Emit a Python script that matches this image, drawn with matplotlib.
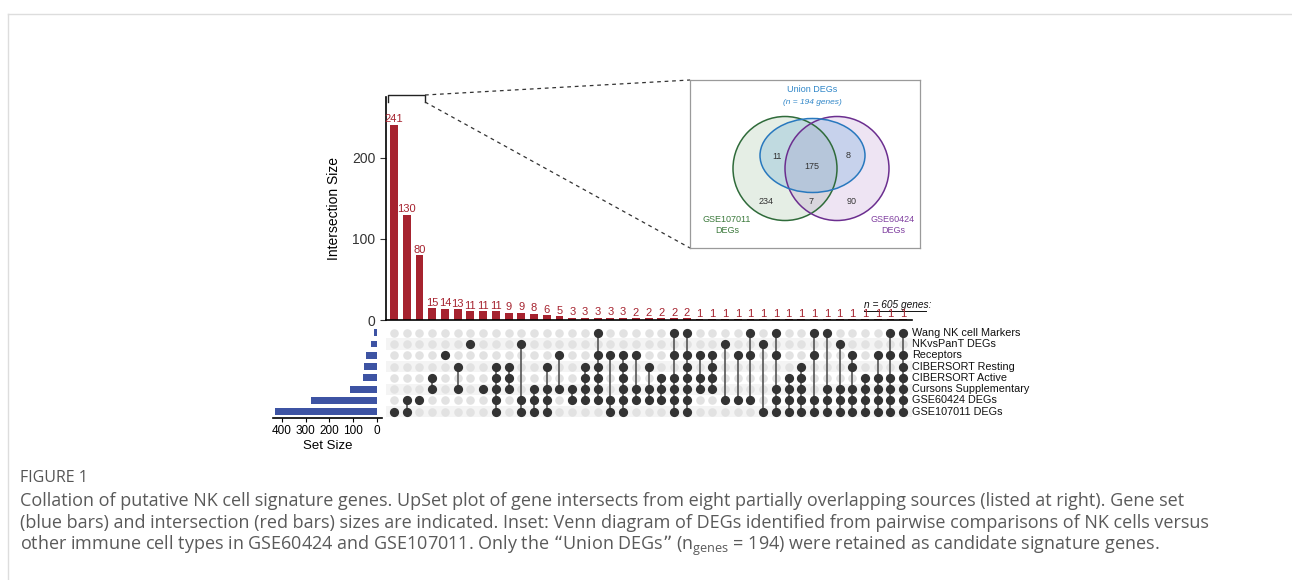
import matplotlib
matplotlib.use("Agg")
import matplotlib.pyplot as plt
from matplotlib.patches import Circle, Ellipse
import numpy as np

plt.rcParams['font.family'] = ['Liberation Sans', 'DejaVu Sans']

# ---------------- data ----------------
set_names = ["Wang NK cell Markers", "NKvsPanT DEGs", "Receptors", "CIBERSORT Resting",
             "CIBERSORT Active", "Cursons Supplementary", "GSE60424 DEGs", "GSE107011 DEGs"]
set_sizes = [14, 26, 47, 57, 58, 114, 278, 427]

counts = [241, 130, 80, 15, 14, 13, 11, 11, 11, 9, 9, 8, 6, 5,
          3, 3, 3, 3, 3, 2, 2, 2, 2, 2,
          1, 1, 1, 1, 1, 1, 1, 1, 1, 1, 1, 1, 1, 1, 1, 1, 1]

# membership of each intersection (row indices into set_names)
combos = [
    [7], [6, 7], [6], [4, 5], [2], [3, 5], [1], [5], [3, 4, 5, 6, 7], [3, 4, 5],
    [1, 6, 7], [5, 6, 7], [3, 5, 6, 7], [2, 5], [5, 6], [3, 4, 5, 6],
    [0, 2, 3, 4, 5, 6], [2, 6, 7], [2, 3, 4, 5, 6, 7], [2, 5, 6], [3, 5, 6],
    [4, 5, 6], [0, 2, 4, 5, 6, 7], [0, 2, 3, 4, 5, 6, 7], [2, 4, 5], [2, 3, 4, 5],
    [1, 6], [2, 6], [0, 2, 6], [1, 7], [0, 2, 5, 6, 7], [4, 5, 6, 7], [3, 4, 5, 6, 7],
    [0, 2, 6, 7], [0, 5, 6, 7], [1, 5, 6, 7], [2, 3, 5, 6, 7], [4, 5, 6, 7],
    [2, 4, 5, 6, 7], [0, 2, 4, 5, 6, 7], [0, 2, 3, 4, 5, 6, 7],
]

y_ticks_main = [0, 100, 200]
x_ticks_sets = [400, 300, 200, 100, 0]

venn_values = {"g_only": 234, "g_union": 11, "center": 175, "p_union": 8, "gp": 7, "p_only": 90}
union_n = 194
total_genes = 605

caption_title = "FIGURE 1"
caption_lines = [
    "Collation of putative NK cell signature genes. UpSet plot of gene intersects from eight partially overlapping sources (listed at right). Gene set",
    "(blue bars) and intersection (red bars) sizes are indicated. Inset: Venn diagram of DEGs identified from pairwise comparisons of NK cells versus",
    "other immune cell types in GSE60424 and GSE107011. Only the \u201cUnion DEGs\u201d (n$\\mathregular{_{genes}}$ = 194) were retained as candidate signature genes.",
]

# ---------------- figure ----------------
W, H = 1292, 580
fig = plt.figure(figsize=(W / 100, H / 100), dpi=100)
fig.patch.set_facecolor("white")

def rect(l, t, r, b):
    return [l / W, 1 - b / H, (r - l) / W, (b - t) / H]

RED = "#A6232F"
BLUE = "#3D53A3"
DARK = "#333333"
n = len(counts)
xlo, xhi = -0.628, 40.69

# overlay axes in pixel coordinates for decorations
ov = fig.add_axes([0, 0, 1, 1], zorder=-1)
ov.set_xlim(0, W)
ov.set_ylim(H, 0)
ov.axis("off")
ov.plot([8, W], [14, 14], color="#dddddd", lw=1)
ov.plot([8, 8], [14, H], color="#dddddd", lw=1)

# ---- intersection bars ----
axb = fig.add_axes(rect(386, 97, 912, 320))
x = np.arange(n)
axb.bar(x, counts, width=0.62, color=RED)
for xi, c in zip(x, counts):
    axb.text(xi, c + 6.5, str(c), ha="center", va="center", color=RED, fontsize=8)
axb.set_xlim(xlo, xhi)
axb.set_ylim(0, 275)
axb.set_yticks(y_ticks_main)
axb.tick_params(axis="y", labelsize=10, length=4, width=0.8, colors="#333333")
axb.set_xticks([])
for s in ["top", "right"]:
    axb.spines[s].set_visible(False)
axb.spines["left"].set_linewidth(1.2)
axb.spines["bottom"].set_linewidth(1.2)
axb.set_ylabel("Intersection Size", fontsize=10, labelpad=8)
axb.patch.set_alpha(0)

ov.text(864, 305, "n = %d genes:" % total_genes, ha="left", va="center",
        fontsize=7.3, style="italic", color="#111111")
ov.plot([864, 926], [310.5, 310.5], color="#111111", lw=0.7)

# ---- matrix ----
axm = fig.add_axes(rect(386, 327, 912, 418))
axm.set_xlim(xlo, xhi)
axm.set_ylim(7.55, -0.5)
axm.axis("off")
for r in range(len(set_names)):
    if r % 2 == 1:
        axm.axhspan(r - 0.5, r + 0.5, color="#f4f4f4", zorder=0, lw=0)
for i, combo in enumerate(combos):
    axm.scatter([i] * len(set_names), range(len(set_names)), s=38, color="#e2e2e2", zorder=1, lw=0)
    if len(combo) > 1:
        axm.plot([i, i], [min(combo), max(combo)], color="#555555", lw=1.2, zorder=2)
    axm.scatter([i] * len(combo), combo, s=44, color=DARK, zorder=3, lw=0)
for r, name in enumerate(set_names):
    axm.text(xhi + 0.0, r, name, ha="left", va="center", fontsize=7.8, color="#111111")

# ---- set sizes ----
axs = fig.add_axes(rect(273, 327, 382, 418))
axs.barh(range(len(set_names)), set_sizes, height=0.6, color=BLUE)
axs.set_xlim(436, -19.7)
axs.set_ylim(7.55, -0.5)
axs.set_yticks([])
axs.set_xticks(x_ticks_sets)
axs.tick_params(axis="x", labelsize=8.5, length=3, width=0.8, pad=2)
for s in ["top", "right", "left"]:
    axs.spines[s].set_visible(False)
axs.spines["bottom"].set_linewidth(1.2)
axs.set_xlabel("Set Size", fontsize=9.5, labelpad=2)
axs.patch.set_alpha(0)

# ---- bracket and zoom lines ----
ov.plot([388, 388, 425, 425], [102, 95, 95, 102], color="#222222", lw=1)
ov.plot([425, 690], [95, 80], color="#333333", lw=0.9, ls=(0, (3, 3)))
ov.plot([425, 690], [102, 248], color="#333333", lw=0.9, ls=(0, (3, 3)))

# ---- Venn inset ----
axv = fig.add_axes(rect(690, 80, 920, 248))
axv.set_xlim(690, 920)
axv.set_ylim(248, 80)
axv.set_xticks([])
axv.set_yticks([])
for s in axv.spines.values():
    s.set_color("#9a9a9a")
    s.set_linewidth(0.9)
axv.add_patch(Circle((785, 168.5), 52, facecolor="#4a8a4a", alpha=0.14, lw=0))
axv.add_patch(Circle((837, 168.5), 52, facecolor="#a060b8", alpha=0.17, lw=0))
axv.add_patch(Ellipse((812.5, 155.5), 105, 74, facecolor="#2c8ad0", alpha=0.2, lw=0))
axv.add_patch(Circle((785, 168.5), 52, facecolor="none", edgecolor="#2f6b3a", lw=1.1))
axv.add_patch(Circle((837, 168.5), 52, facecolor="none", edgecolor="#6b2e8f", lw=1.1))
axv.add_patch(Ellipse((812.5, 155.5), 105, 74, facecolor="none", edgecolor="#2878be", lw=1.1))
vfs = 6.5
axv.text(812, 90, "Union DEGs", color="#2f86c8", fontsize=6.5, ha="center", va="center")
axv.text(812, 103, "(n = %d genes)" % union_n, color="#2f86c8", fontsize=6, ha="center",
         va="center", style="italic")
axv.text(777, 156.5, str(venn_values["g_union"]), fontsize=vfs, ha="center", va="center", color=DARK)
axv.text(812, 166.5, str(venn_values["center"]), fontsize=vfs, ha="center", va="center", color=DARK)
axv.text(848, 155.5, str(venn_values["p_union"]), fontsize=vfs, ha="center", va="center", color=DARK)
axv.text(766, 201.5, str(venn_values["g_only"]), fontsize=vfs, ha="center", va="center", color=DARK)
axv.text(811, 201.5, str(venn_values["gp"]), fontsize=vfs, ha="center", va="center", color=DARK)
axv.text(852, 201.5, str(venn_values["p_only"]), fontsize=vfs, ha="center", va="center", color=DARK)
axv.text(727, 225, "GSE107011\nDEGs", color="#3c7a3c", fontsize=6.5, ha="center", va="center",
         linespacing=1.25)
axv.text(893, 225, "GSE60424\nDEGs", color="#8040a0", fontsize=6.5, ha="center", va="center",
         linespacing=1.25)

# ---- caption ----
ov.text(20, 478, caption_title, fontsize=11.5, color="#555555", ha="left", va="center",
        family=["Open Sans", "DejaVu Sans"])
for k, line in enumerate(caption_lines):
    ov.text(20, 501 + 22.5 * k, line, fontsize=13.0, color="#5a5a5a", ha="left", va="center",
            family=["Open Sans", "DejaVu Sans"])

fig.savefig("out.png", dpi=100, facecolor="white")
